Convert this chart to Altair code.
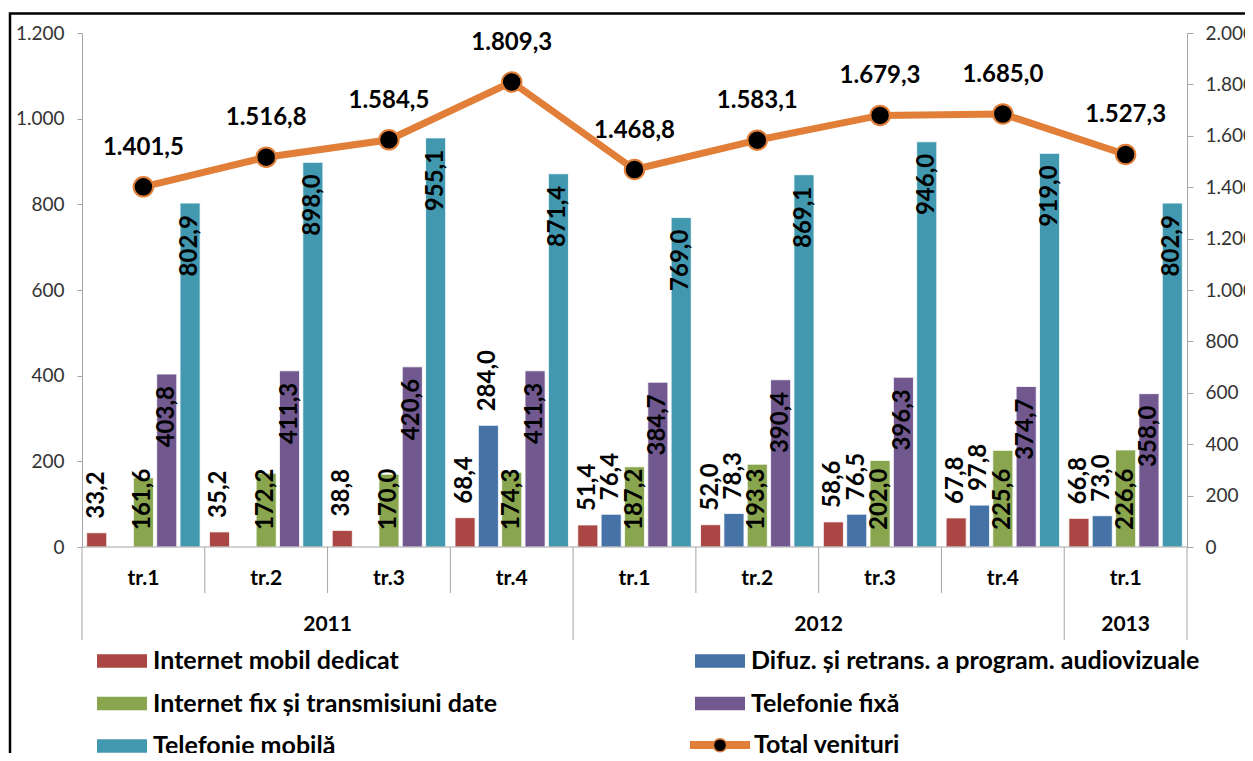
import altair as alt
import pandas as pd

# ---------------- data ----------------
years = ["2011", "2011", "2011", "2011", "2012", "2012", "2012", "2012", "2013"]
quarters = ["tr.1", "tr.2", "tr.3", "tr.4", "tr.1", "tr.2", "tr.3", "tr.4", "tr.1"]
series = [
    "Internet mobil dedicat",
    "Difuz. și retrans. a program. audiovizuale",
    "Internet fix și transmisiuni date",
    "Telefonie fixă",
    "Telefonie mobilă",
]
colors = ["#AA4643", "#4572A7", "#89A54E", "#71588F", "#4198AF"]
internet_mobil = [33.2, 35.2, 38.8, 68.4, 51.4, 52.0, 58.6, 67.8, 66.8]
difuz = [None, None, None, 284.0, 76.4, 78.3, 76.5, 97.8, 73.0]
internet_fix = [161.6, 172.2, 170.0, 174.3, 187.2, 193.3, 202.0, 225.6, 226.6]
tel_fixa = [403.8, 411.3, 420.6, 411.3, 384.7, 390.4, 396.3, 374.7, 358.0]
tel_mobila = [802.9, 898.0, 955.1, 871.4, 769.0, 869.1, 946.0, 919.0, 802.9]
total = [1401.5, 1516.8, 1584.5, 1809.3, 1468.8, 1583.1, 1679.3, 1685.0, 1527.3]
total_name = "Total venituri"
left_ticks = [0, 200, 400, 600, 800, 1000, 1200]
right_ticks = [0, 200, 400, 600, 800, 1000, 1200, 1400, 1600, 1800, 2000]

ORANGE = "#E17F38"
GRAY = "#A6A6A6"
FONT = "Lato"


def ro(v, d=1):
    s = f"{v:,.{d}f}"
    return s.replace(",", "_").replace(".", ",").replace("_", ".")


cats = [f"{y} {q}" for y, q in zip(years, quarters)]
rows = []
for s, vals in zip(series, [internet_mobil, difuz, internet_fix, tel_fixa, tel_mobila]):
    for c, v in zip(cats, vals):
        if v is not None:
            rows.append({"cat": c, "serie": s, "val": v, "label": ro(v)})
bars_df = pd.DataFrame(rows)
line_df = pd.DataFrame({"cat": cats, "val": total, "label": [ro(v) for v in total],
                        "tot": total_name, "tot_pt": total_name})
quarter_df = pd.DataFrame({"cat": cats, "q": quarters})

year_start = [cats[i] for i in range(len(cats)) if i == 0 or years[i] != years[i - 1]]
quarter_sep = [c for c in cats if c not in year_start]
year_idx = {}
for i, y in enumerate(years):
    year_idx.setdefault(y, []).append(i)
even_rows, odd_rows = [], []
for y, idx in year_idx.items():
    n = len(idx)
    if n % 2 == 0:
        even_rows.append({"cat": cats[idx[n // 2 - 1]], "year": y})
    else:
        odd_rows.append({"cat": cats[idx[n // 2]], "year": y})

W, H = 1105, 514

xscale = alt.Scale(domain=cats, paddingInner=0, paddingOuter=0)
x_plain = alt.X("cat:N", sort=cats, scale=xscale, axis=None)
xo = alt.XOffset("serie:N", sort=series,
                 scale=alt.Scale(domain=series, paddingInner=0.14, paddingOuter=0.2))

lscale = alt.Scale(domain=[0, 1200], nice=False)
rscale = alt.Scale(domain=[0, 2000], nice=False)
fmt = "replace(format(datum.value, ','), ',', '.')"
y_left_axis = alt.Y("val:Q", scale=lscale, axis=alt.Axis(
    title=None, orient="left", values=left_ticks, labelExpr=fmt, grid=False,
    domainColor=GRAY, tickColor=GRAY, tickSize=5, labelPadding=13, labelFont=FONT,
    labelFontSize=19, labelColor="#333333"))
y_left = alt.Y("val:Q", scale=lscale, axis=None)
y_right_axis = alt.Y("val:Q", scale=rscale, axis=alt.Axis(
    title=None, orient="right", values=right_ticks, labelExpr=fmt, grid=False,
    domainColor=GRAY, tickColor=GRAY, tickSize=6, labelPadding=12, labelFont=FONT,
    labelFontSize=19, labelColor="#333333"))
y_right = alt.Y("val:Q", scale=rscale, axis=None)

LEG = dict(labelFont=FONT, labelFontWeight="bold", labelFontSize=25, labelColor="black",
           labelLimit=0, padding=0, title=None, orient="none")

color_legend = alt.Legend(
    legendX=15, legendY=603, columns=2, direction="horizontal", columnPadding=197,
    rowPadding=4.5, symbolType="M-1,-0.27H1V0.27H-1Z", symbolSize=2500,
    symbolStrokeWidth=0, labelOffset=6, **LEG)

bars = alt.Chart(bars_df).mark_bar(stroke="white", strokeWidth=0.8).encode(
    x=x_plain, xOffset=xo, y=y_left_axis,
    color=alt.Color("serie:N", sort=series, scale=alt.Scale(domain=series, range=colors),
                    legend=color_legend))

txt = dict(angle=270, baseline="middle", font=FONT, fontWeight="bold", fontSize=24, color="black")
lab_out = alt.Chart(bars_df).transform_filter(
    alt.FieldOneOfPredicate(field="serie", oneOf=series[:2])
).mark_text(align="left", dx=14, **txt).encode(x=x_plain, xOffset=xo, y=y_left, text="label:N")
lab_end = alt.Chart(bars_df).transform_filter(
    alt.FieldOneOfPredicate(field="serie", oneOf=series[3:])
).mark_text(align="right", dx=-12, **txt).encode(x=x_plain, xOffset=xo, y=y_left, text="label:N")
lab_base = alt.Chart(bars_df).transform_filter(
    alt.FieldEqualPredicate(field="serie", equal=series[2])
).transform_calculate(base="0").mark_text(align="left", dx=17, **txt).encode(
    x=x_plain, xOffset=xo, y=alt.Y("base:Q", scale=lscale, axis=None), text="label:N")

line = alt.Chart(line_df).mark_line(strokeWidth=7).encode(
    x=x_plain, y=y_right_axis,
    stroke=alt.Stroke("tot:N", scale=alt.Scale(range=[ORANGE]), legend=alt.Legend(
        legendX=604, legendY=678, symbolType="M-1,0H1", symbolSize=3600,
        symbolStrokeWidth=8, labelOffset=0, **LEG)))
points = alt.Chart(line_df).mark_point(filled=True, size=380, stroke=ORANGE, strokeWidth=2,
                                        opacity=1).encode(
    x=x_plain, y=y_right,
    fill=alt.Fill("tot_pt:N", scale=alt.Scale(range=["black"]), legend=alt.Legend(
        legendX=607, legendY=681.25,
        symbolType="M0.22,0A0.22,0.22,0,1,1,-0.22,0A0.22,0.22,0,1,1,0.22,0",
        symbolSize=3600, symbolStrokeWidth=1.5, symbolStrokeColor=ORANGE,
        labelExpr="''", labelOffset=0, **LEG)))
line_labels = alt.Chart(line_df).mark_text(
    baseline="middle", align="center", dy=-39, font=FONT, fontWeight="bold", fontSize=24,
    color="black").encode(x=x_plain, y=y_right, text="label:N")

# ---------------- category axis (drawn with marks) ----------------
domain_line = alt.Chart(alt.Data(values=[{"a": 1}])).mark_rule(color=GRAY, strokeWidth=1).encode(
    x=alt.value(0), x2=alt.value(W), y=alt.value(H))
q_sep = alt.Chart(pd.DataFrame({"cat": quarter_sep})).mark_rule(color=GRAY, strokeWidth=1).encode(
    x=alt.X("cat:N", sort=cats, scale=xscale, axis=None, bandPosition=0),
    y=alt.value(H), y2=alt.value(H + 46))
sep_start = alt.Chart(pd.DataFrame({"cat": year_start})).mark_rule(color=GRAY, strokeWidth=1).encode(
    x=alt.X("cat:N", sort=cats, scale=xscale, axis=None, bandPosition=0),
    y=alt.value(H), y2=alt.value(H + 93))
sep_end = alt.Chart(pd.DataFrame({"cat": [cats[-1]]})).mark_rule(color=GRAY, strokeWidth=1).encode(
    x=alt.X("cat:N", sort=cats, scale=xscale, axis=None, bandPosition=1),
    y=alt.value(H), y2=alt.value(H + 93))

ytxt = dict(baseline="middle", align="center", font=FONT, fontWeight="bold", fontSize=21,
            color="black")
q_labels = alt.Chart(quarter_df).mark_text(**ytxt).encode(
    x=x_plain, y=alt.value(H + 32), text="q:N")
year_even = alt.Chart(pd.DataFrame(even_rows)).mark_text(**ytxt).encode(
    x=alt.X("cat:N", sort=cats, scale=xscale, axis=None, bandPosition=1),
    y=alt.value(H + 78), text="year:N")
year_odd = alt.Chart(pd.DataFrame(odd_rows)).mark_text(**ytxt).encode(
    x=alt.X("cat:N", sort=cats, scale=xscale, axis=None, bandPosition=0.5),
    y=alt.value(H + 78), text="year:N")

frame = alt.Chart(alt.Data(values=[{"a": 1}])).mark_rect(
    fillOpacity=0, stroke="black", strokeWidth=2.5).encode(
    x=alt.value(-72), x2=alt.value(W + 300), y=alt.value(-19.5), y2=alt.value(H + 400))

chart = alt.layer(
    bars, line, lab_out, lab_end, lab_base, points, line_labels,
    domain_line, q_sep, sep_start, sep_end, q_labels, year_even, year_odd, frame
).resolve_scale(y="independent").properties(
    width=W, height=H,
    padding={"left": 74, "top": 25, "right": 58, "bottom": 206},
    autosize=alt.AutoSizeParams(type="none"),
).configure_view(stroke=None)

chart.save("out.html", embed_options={"renderer": "svg", "actions": False})
